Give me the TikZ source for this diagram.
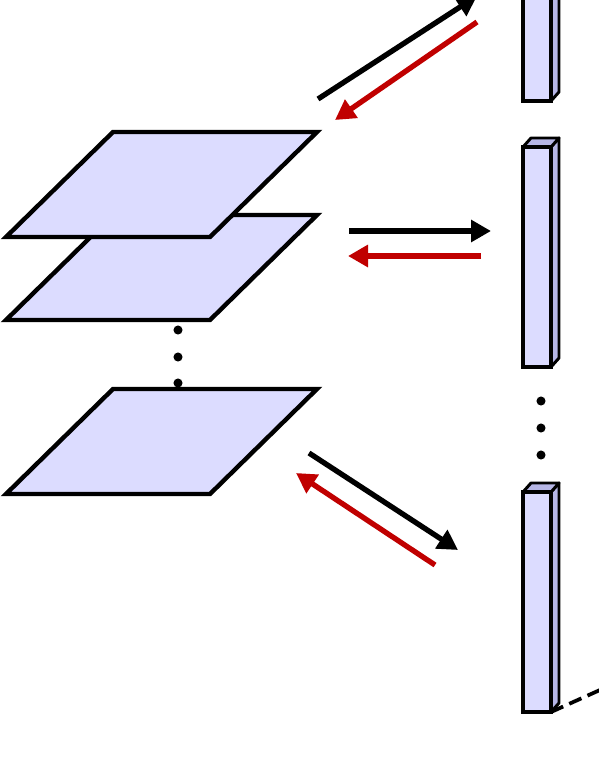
\documentclass[tikz,border=0pt]{standalone}
\usepackage{xcolor}
\usepackage{tikz}
\usetikzlibrary{arrows.meta,calc}
\definecolor{layerF}{HTML}{DCDCFF}
\definecolor{layerS}{HTML}{B6B6E6}
\definecolor{backR}{HTML}{C00000}

% one feature plane, given the y of its upper edge
\newcommand\layerplane[2]{%
  \draw[plane] (113,#2) coordinate (#1) -- (317,#2) -- (210,#2+105) -- (6,#2+105) -- cycle;}
% one feature column, given the y of its top and bottom
\newcommand\featcol[3]{%
  \draw[side] (551,#2) -- (559,#2-9) -- (559,#3-9) -- (551,#3) -- cycle;
  \draw[side] (523,#2) -- (531,#2-9) -- (559,#2-9) -- (551,#2) -- cycle;
  \draw[face] (523,#2) rectangle (551,#3);
  \coordinate (#1) at (551,#3);}

\begin{document}
\begin{tikzpicture}[x=0.75pt, y=-0.75pt,
  plane/.style={draw=black, line width=3.3pt, fill=layerF, line join=miter},
  face/.style={draw=black, line width=3.3pt, fill=layerF},
  side/.style={draw=black, line width=2.2pt, fill=layerS, line join=round},
  fwd/.style={-{Triangle[length=15pt,width=16pt]}, line width=4pt, black},
  bwd/.style={-{Triangle[length=15pt,width=16pt]}, line width=4pt, backR},
  dot/.style={fill=black}
]
  \useasboundingbox (0,0) rectangle (599,775);
  \clip (0,0) rectangle (599,775);

  % planes on the left
  \layerplane{pl2}{215}
  \layerplane{pl1}{132}
  \layerplane{pl3}{389}
  \foreach \yy in {330,357,383} \fill[dot] (178,\yy) circle[radius=3.4pt];

  % columns on the right
  \featcol{col1}{-130}{101}
  \featcol{col2}{147}{367}
  \featcol{col3}{492}{712}
  \foreach \yy in {401,428,455} \fill[dot] (541,\yy) circle[radius=3.4pt];

  % arrow ends
  \coordinate (a1s) at (318,99);   \coordinate (a1e) at (477,-4);
  \coordinate (b1s) at (477,22);   \coordinate (b1e) at (335,120);
  \coordinate (a2s) at (349,231);  \coordinate (a2e) at (491,231);
  \coordinate (b2s) at (481,256);  \coordinate (b2e) at (348,256);
  \coordinate (a3s) at (309,453);  \coordinate (a3e) at (458,550);
  \coordinate (b3s) at (435,565);  \coordinate (b3e) at (296,473);
  \coordinate (dsh) at (640,672);

  \draw[fwd] (a1s) -- (a1e);
  \draw[bwd] (b1s) -- (b1e);
  \draw[fwd] (a2s) -- (a2e);
  \draw[bwd] (b2s) -- (b2e);
  \draw[fwd] (a3s) -- (a3e);
  \draw[bwd] (b3s) -- (b3e);
  \draw[line width=2.8pt, dash pattern=on 10pt off 5pt] (col3) -- (dsh);
\end{tikzpicture}
\end{document}
